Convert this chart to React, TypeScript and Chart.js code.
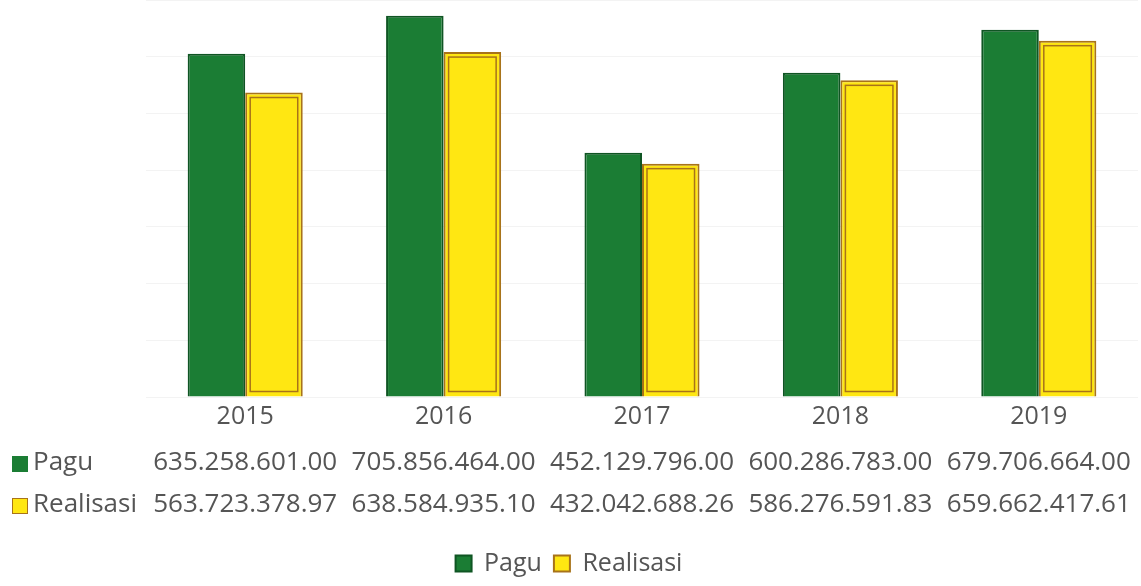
import React, { useEffect, useRef } from "react";
import { Chart, registerables } from "chart.js";

Chart.register(...registerables);

const years = ["2015", "2016", "2017", "2018", "2019"];
const pagu = [635258601.0, 705856464.0, 452129796.0, 600286783.0, 679706664.0];
const realisasi = [563723378.97, 638584935.1, 432042688.26, 586276591.83, 659662417.61];
const paguLabels = ["635.258.601.00", "705.856.464.00", "452.129.796.00", "600.286.783.00", "679.706.664.00"];
const realisasiLabels = ["563.723.378.97", "638.584.935.10", "432.042.688.26", "586.276.591.83", "659.662.417.61"];

const GREEN = "#1b7d34";
const GREEN_DARK = "#0f5523";
const YELLOW = "#ffe712";
const BROWN = "#a8731a";
const FONT = "'Open Sans', 'Noto Sans', sans-serif";
const TEXT = "#555555";

export default function App() {
  const ref = useRef<HTMLCanvasElement | null>(null);
  useEffect(() => {
    document.body.style.margin = "0";
    const canvas = ref.current;
    if (!canvas) return;

    const bevelPlugin = {
      id: "bevel",
      afterDatasetsDraw(chart: any) {
        const ctx = chart.ctx;
        const meta = chart.getDatasetMeta(1);
        ctx.save();
        meta.data.forEach((bar: any) => {
          const { x, y, base, width } = bar.getProps(["x", "y", "base", "width"], true);
          const l = x - width / 2 + 5;
          const r = x + width / 2 - 5;
          ctx.strokeStyle = BROWN;
          ctx.lineWidth = 1.5;
          ctx.strokeRect(l, y + 5, r - l, base - y - 10);
        });
        ctx.restore();
      },
    };

    const tablePlugin = {
      id: "table",
      afterDraw(chart: any) {
        const ctx = chart.ctx;
        const xs = chart.scales.x;
        ctx.save();
        ctx.font = `26px ${FONT}`;
        ctx.fillStyle = TEXT;
        ctx.textBaseline = "middle";
        ctx.textAlign = "center";
        const rows = [
          { y: 463, labels: paguLabels },
          { y: 505, labels: realisasiLabels },
        ];
        rows.forEach((row) => {
          row.labels.forEach((t, i) => {
            ctx.fillText(t, xs.getPixelForValue(i), row.y);
          });
        });
        // row headers
        ctx.textAlign = "left";
        ctx.fillStyle = GREEN;
        ctx.fillRect(12, 456, 16, 16);
        ctx.fillStyle = TEXT;
        ctx.fillText("Pagu", 33, 463);
        ctx.fillStyle = YELLOW;
        ctx.fillRect(12, 498, 16, 16);
        ctx.strokeStyle = BROWN;
        ctx.lineWidth = 1;
        ctx.strokeRect(12.5, 498.5, 15, 15);
        ctx.fillStyle = TEXT;
        ctx.fillText("Realisasi", 33, 505);
        ctx.restore();
      },
    };

    const chart = new Chart(canvas, {
      type: "bar",
      data: {
        labels: years,
        datasets: [
          {
            label: "Pagu",
            data: pagu,
            backgroundColor: GREEN,
            borderColor: GREEN_DARK,
            borderWidth: 2,
            categoryPercentage: 0.58,
            barPercentage: 1,
          },
          {
            label: "Realisasi",
            data: realisasi,
            backgroundColor: YELLOW,
            borderColor: BROWN,
            borderWidth: 2,
            categoryPercentage: 0.58,
            barPercentage: 1,
          },
        ],
      },
      options: {
        animation: false,
        responsive: false,
        layout: { padding: { left: 0, right: 3, top: 0, bottom: 0 } },
        plugins: {
          legend: {
            position: "bottom",
            labels: {
              font: { family: FONT, size: 25 },
              color: TEXT,
              boxWidth: 16,
              boxHeight: 16,
              padding: 12,
              useBorderRadius: false,
            },
          },
          tooltip: { enabled: false },
        },
        scales: {
          x: {
            grid: { display: false },
            border: { display: false },
            ticks: { font: { family: FONT, size: 25 }, color: TEXT, padding: -3 },
            afterFit(scale: any) {
              scale.height = 142;
            },
          },
          y: {
            display: true,
            min: 0,
            max: 735000000,
            ticks: { display: false, stepSize: 100000000 },
            grid: { color: "#f3f3f3", drawTicks: false },
            border: { display: false },
            afterFit(scale: any) {
              scale.width = 146;
            },
          },
        },
      },
      plugins: [bevelPlugin, tablePlugin],
    });
    return () => chart.destroy();
  }, []);
  return <canvas ref={ref} width={1141} height={586} style={{ display: "block" }} />;
}
